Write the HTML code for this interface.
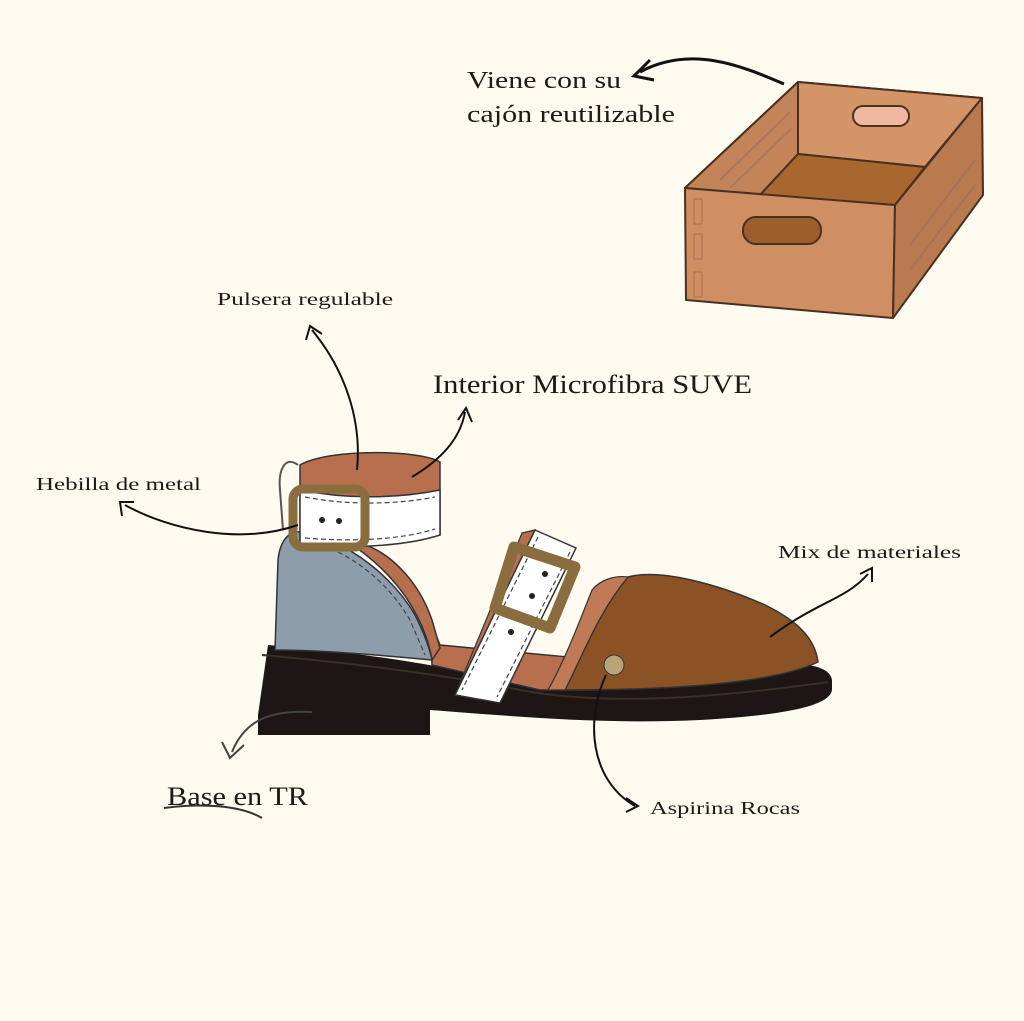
<!DOCTYPE html>
<html><head><meta charset="utf-8"><style>
html,body{margin:0;padding:0;background:#fdfaef;}
svg{display:block}
text{font-family:"Liberation Serif",serif;fill:#1a1a1a}
</style></head><body>
<svg width="1024" height="1021" viewBox="0 0 1024 1021" xmlns="http://www.w3.org/2000/svg">
<rect width="1024" height="1021" fill="#fdfaef"/>
<!-- BOX -->
<g stroke="#4a3020" stroke-width="2" stroke-linejoin="round">
<polygon points="685,188 798,82 982,98 895,205" fill="#c98a60"/>
<polygon points="798,82 982,98 925,167 798,154" fill="#d39468"/>
<polygon points="685,188 798,82 798,154 760,195" fill="#c3845a"/>
<polygon points="760,195 798,154 925,167 895,205" fill="#a8672f"/>
<polygon points="685,188 895,205 893,318 686,300" fill="#cf8f63"/>
<polygon points="895,205 982,98 983,195 893,318" fill="#b97a50"/>
<rect x="853" y="106" width="56" height="20" rx="10" fill="#efb9a0"/>
<rect x="743" y="217" width="78" height="27" rx="13" fill="#9c5e2c"/>
</g>
<g stroke="#a87050" stroke-width="1" fill="none">
<rect x="694" y="199" width="8" height="25"/><rect x="694" y="234" width="8" height="25"/><rect x="694" y="272" width="8" height="25"/>
</g>
<g stroke="#9a7060" stroke-width="2" opacity="0.6"><line x1="720" y1="180" x2="790" y2="112"/><line x1="730" y1="188" x2="792" y2="128"/><line x1="910" y1="270" x2="975" y2="185"/><line x1="910" y1="245" x2="975" y2="160"/></g>
<path d="M784,84 C740,65 690,45 640,72" fill="none" stroke="#111" stroke-width="3"/>
<path d="M650,60 L634,76 L654,80" fill="none" stroke="#111" stroke-width="3"/>
<text x="467" y="88" font-size="24" textLength="154" lengthAdjust="spacingAndGlyphs">Viene con su</text>
<text x="467" y="122" font-size="24" textLength="208" lengthAdjust="spacingAndGlyphs">cajón reutilizable</text>

<!-- SHOE -->
<path d="M268,645 C330,650 420,660 500,680 C580,698 650,690 760,668 C800,660 830,665 832,680 L832,690 C830,705 790,715 700,720 C600,725 500,715 430,710 L430,735 L258,735 L258,715 Z" fill="#1d1614"/>
<path d="M262,655 C340,662 430,672 520,690 C600,705 700,700 828,682" fill="none" stroke="#3a2e28" stroke-width="2"/>
<!-- lining band -->
<path d="M430,620 L440,645 L600,660 L600,690 L540,690 L432,665 Z" fill="#b86f4e" stroke="#333" stroke-width="1.5"/>
<!-- heel counter inner lining -->
<path d="M345,540 C390,545 420,585 432,620 L440,648 L432,660 C425,620 400,575 345,540 Z" fill="#b86f4e" stroke="#333" stroke-width="1.5"/>
<!-- blue -->
<path d="M275,650 L278,560 C280,540 290,530 300,532 C350,540 395,580 415,615 C425,635 430,650 432,660 C380,655 320,650 275,650 Z" fill="#8e9dab" stroke="#333" stroke-width="1.5"/>
<path d="M300,540 C350,548 390,585 410,620 L425,655" fill="none" stroke="#444" stroke-width="1.2" stroke-dasharray="5,3"/>
<!-- toe -->
<path d="M628,577 C660,568 720,585 765,605 C800,622 815,640 818,662 C780,680 700,690 565,690 C585,650 600,610 628,577 Z" fill="#8b5226" stroke="#333" stroke-width="1.5"/>
<path d="M628,577 C615,575 600,580 592,590 C580,620 565,660 548,690 L565,690 C585,650 600,610 628,577 Z" fill="#c07a56" stroke="#333" stroke-width="1.2"/>
<circle cx="614" cy="665" r="10" fill="#b9a478" stroke="#333"/>
<!-- ankle strap -->
<path d="M300,465 C330,448 420,450 440,462 L440,535 C400,545 340,545 300,540 Z" fill="#b86f4e" stroke="#333" stroke-width="1.5"/>
<path d="M300,490 C350,500 400,498 440,490 L440,535 C400,548 340,548 300,545 Z" fill="#fff" stroke="#333" stroke-width="1.5"/>
<path d="M305,497 C350,506 400,504 435,497 M305,538 C350,542 400,540 435,529" fill="none" stroke="#444" stroke-width="1.2" stroke-dasharray="5,3"/>
<path d="M298,465 C285,455 278,470 280,490 L283,530" fill="none" stroke="#555" stroke-width="2"/>
<rect x="293" y="489" width="72" height="58" rx="10" fill="none" stroke="#8a6d3e" stroke-width="9"/>
<circle cx="322" cy="520" r="3" fill="#222"/><circle cx="339" cy="521" r="3" fill="#222"/>
<!-- front strap -->
<polygon points="522,533 535,530 480,690 455,695" fill="#b86f4e" stroke="#333" stroke-width="1.2"/>
<polygon points="535,530 576,548 500,703 455,695" fill="#fff" stroke="#333" stroke-width="1.5"/>
<path d="M538,537 L462,690 M570,552 L497,697" fill="none" stroke="#444" stroke-width="1.2" stroke-dasharray="5,3"/>
<path d="M514,547 L575,567 L550,628 L495,608 Z" fill="none" stroke="#8a6d3e" stroke-width="11" stroke-linejoin="round"/>
<circle cx="545" cy="574" r="3" fill="#222"/><circle cx="532" cy="596" r="3" fill="#222"/><circle cx="511" cy="632" r="3" fill="#222"/>

<!-- labels & arrows -->
<g fill="none" stroke="#111" stroke-width="2">
<path d="M357,470 C362,420 345,370 312,330"/><path d="M306,340 L310,326 L322,334"/>
<path d="M412,477 C440,460 460,440 465,412"/><path d="M458,420 L466,408 L472,422"/>
<path d="M298,525 C240,545 170,530 125,505"/><path d="M122,516 L120,502 L134,502"/>
<path d="M770,637 C820,600 845,600 868,574"/><path d="M860,574 L872,568 L872,582"/>
<path d="M606,675 C585,720 590,780 635,806"/><path d="M626,798 L638,806 L626,812"/>
<path d="M312,712 C270,710 245,720 232,752" stroke="#444"/><path d="M222,742 L230,758 L244,745" stroke="#444"/>
<path d="M164,808 C200,803 240,805 262,818" stroke="#333"/>
</g>
<text x="217" y="305" font-size="18" textLength="176" lengthAdjust="spacingAndGlyphs">Pulsera regulable</text>
<text x="433" y="393" font-size="26" textLength="319" lengthAdjust="spacingAndGlyphs">Interior Microfibra SUVE</text>
<text x="36" y="490" font-size="18" textLength="165" lengthAdjust="spacingAndGlyphs">Hebilla de metal</text>
<text x="778" y="558" font-size="18" textLength="183" lengthAdjust="spacingAndGlyphs">Mix de materiales</text>
<text x="167" y="805" font-size="26" fill="#333" textLength="141" lengthAdjust="spacingAndGlyphs">Base en TR</text>
<text x="650" y="814" font-size="18" textLength="150" lengthAdjust="spacingAndGlyphs">Aspirina Rocas</text>
</svg>
</body></html>
